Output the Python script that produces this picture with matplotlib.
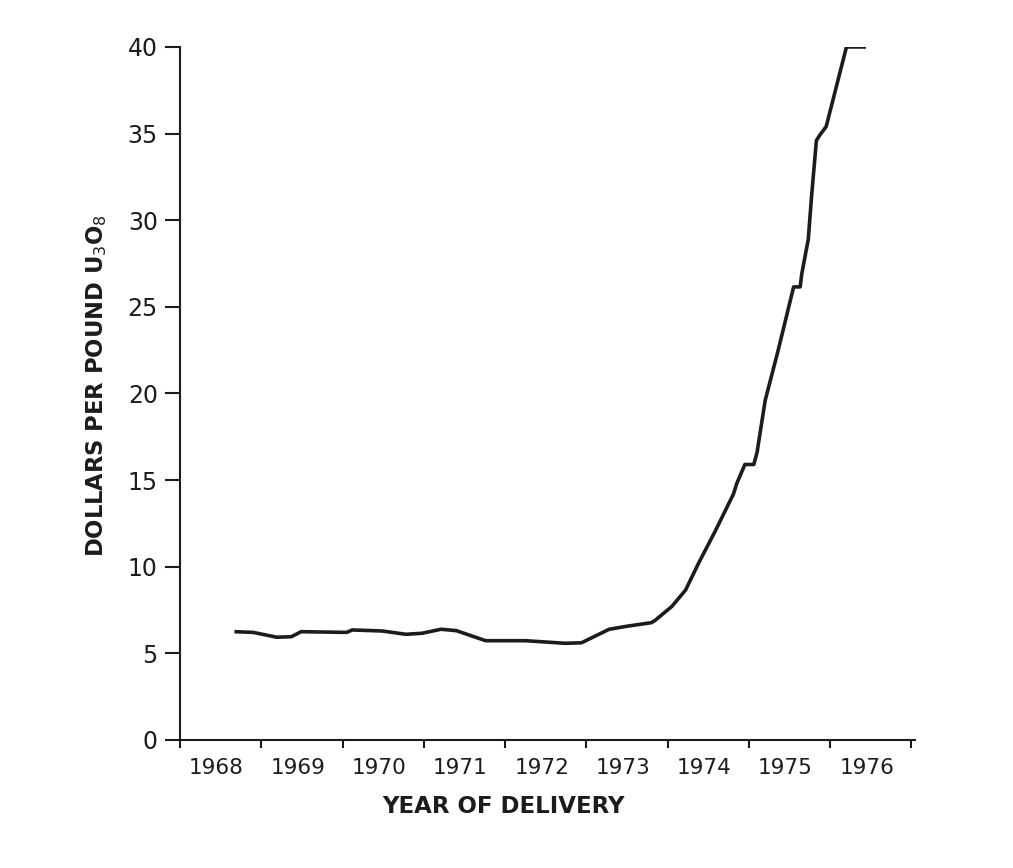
import matplotlib
matplotlib.use("Agg")
import matplotlib.pyplot as plt
import numpy as np

# uranium oxide price
years = [1968.67, 1968.90, 1969.19, 1969.37, 1969.49, 1970.05, 1970.12, 1970.49,
         1970.78, 1970.98, 1971.21, 1971.40, 1971.76, 1972.25, 1972.74, 1972.94,
         1973.28, 1973.52, 1973.80, 1973.85, 1974.05, 1974.22, 1974.38, 1974.59,
         1974.81, 1974.85, 1974.95, 1975.06, 1975.10, 1975.20, 1975.36, 1975.55,
         1975.63, 1975.65, 1975.73, 1975.77, 1975.83, 1975.87, 1975.95, 1976.20,
         1976.44]
price = [6.25, 6.21, 5.93, 5.96, 6.25, 6.21, 6.35, 6.29,
         6.10, 6.16, 6.39, 6.31, 5.73, 5.73, 5.58, 5.61,
         6.39, 6.58, 6.77, 6.92, 7.70, 8.65, 10.2, 12.1,
         14.2, 14.8, 15.9, 15.9, 16.6, 19.6, 22.5, 26.15,
         26.15, 26.9, 28.9, 31.35, 34.6, 34.9, 35.4, 40.0,
         40.0]

year_labels = ["1968", "1969", "1970", "1971", "1972", "1973", "1974", "1975", "1976"]
y_ticks = [0, 5, 10, 15, 20, 25, 30, 35, 40]

ink = "#1c1c1c"
plt.rcParams["font.family"] = ["DejaVu Sans"]

fig = plt.figure(figsize=(10.13, 8.68), dpi=100)
ax = fig.add_axes([0.1777, 0.1475, 0.7253, 0.7984])

ax.plot(years, price, color=ink, lw=2.6, solid_joinstyle="round", solid_capstyle="butt")

ax.set_xlim(1968, 1977.04)
ax.set_ylim(0, 40)

for s in ["top", "right"]:
    ax.spines[s].set_visible(False)
for s in ["left", "bottom"]:
    ax.spines[s].set_linewidth(1.5)
    ax.spines[s].set_color(ink)

# year boundaries as ticks, year names in between
ax.set_xticks(np.arange(1968, 1978))
ax.set_xticklabels([])
ax.set_xticks([int(y) + 0.45 for y in year_labels], minor=True)
ax.set_xticklabels(year_labels, minor=True)
ax.tick_params(axis="x", which="major", direction="out", length=6, width=1.5, color=ink)
ax.tick_params(axis="x", which="minor", length=0, pad=13, labelsize=15.5, labelcolor=ink)

ax.set_yticks(y_ticks)
ax.set_yticklabels([str(v) for v in y_ticks])
ax.tick_params(axis="y", direction="out", length=11, width=1.5, color=ink, pad=5,
               labelsize=17, labelcolor=ink)

ax.set_xlabel("YEAR OF DELIVERY", fontsize=16.5, fontweight="bold", color=ink)
ax.xaxis.set_label_coords(0.44, -0.08)
ax.set_ylabel(r"DOLLARS PER POUND U$_3$O$_8$", fontsize=16.3, fontweight="bold", color=ink)
ax.yaxis.set_label_coords(-0.097, 0.512)

fig.savefig("out.png", dpi=100, facecolor="white")
